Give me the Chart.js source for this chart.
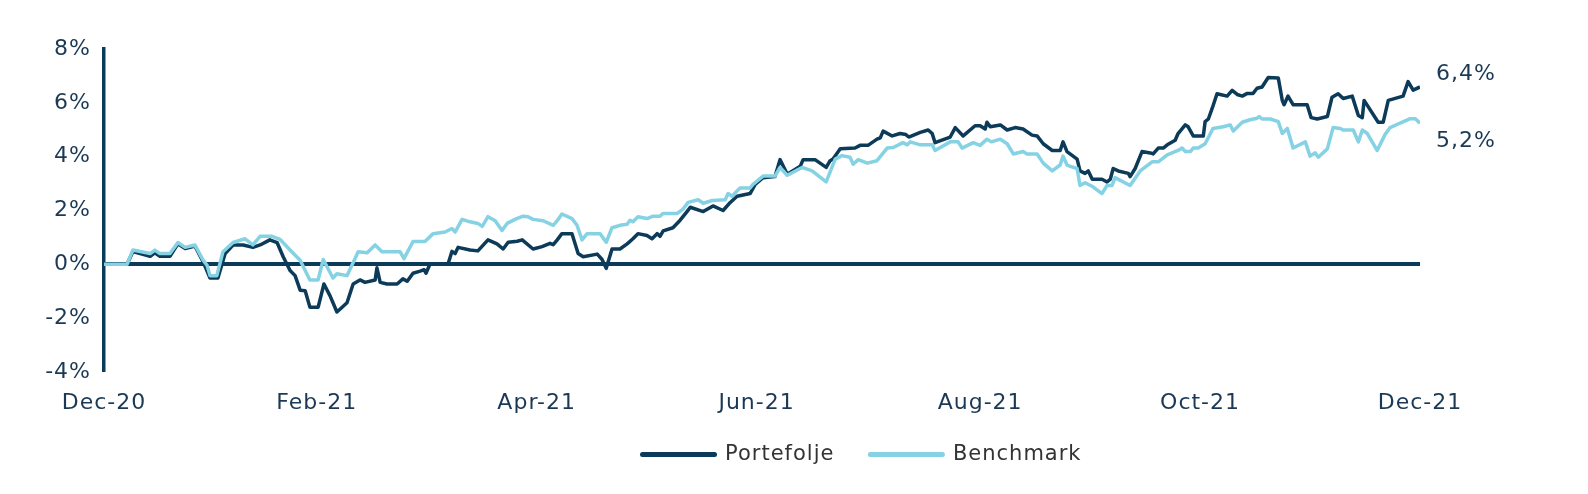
<!DOCTYPE html>
<html>
<head>
<meta charset="utf-8">
<script src="https://cdn.jsdelivr.net/npm/chart.js@4/dist/chart.umd.min.js"></script>
<style>
  body { margin: 0; background: #fff; }
  #wrap { width: 1588px; height: 494px; }
</style>
</head>
<body>
<div id="wrap"><canvas id="returnChart"></canvas></div>
<script>
// x = days since 31 Dec 2020, y = cumulative return in %
const portfolioDays = [0, 6.4, 8.0, 12.8, 14.1, 15.5, 18.3, 20.5, 22.5, 25.2, 27.5, 29.4, 31.6, 33.6, 35.8, 38.6, 41.3, 43.3, 46.0, 48.0,
    49.7, 51.6, 53.0, 54.4, 55.8, 57.1, 59.4, 61.0, 62.7, 64.6, 67.4, 69.1, 71.0, 72.4, 75.2, 75.7, 76.6, 78.5, 81.3, 82.9,
    84.1, 85.7, 87.7, 88.8, 89.3, 90.4, 95.4, 96.5, 97.4, 98.2, 101.5, 103.7, 106.5, 109.0, 110.7, 112.1, 114.6, 116.0, 119.0, 121.5,
    123.7, 124.6, 125.7, 127.0, 129.8, 131.5, 132.9, 136.8, 138.1, 139.3, 140.9, 143.1, 145.1, 146.7, 148.1, 150.6, 152.0, 153.4, 154.2, 155.1,
    157.8, 159.8, 161.7, 162.6, 166.2, 168.9, 171.7, 173.7, 175.6, 179.2, 180.6, 182.8, 186.1, 187.5, 189.5, 193.1, 193.9, 197.2, 200.3, 201.4,
    202.2, 204.2, 208.3, 209.7, 211.9, 214.4, 215.3, 216.1, 218.6, 220.8, 222.4, 223.2, 226.4, 228.6, 229.7, 230.5, 234.7, 236.1, 238.3, 241.6,
    243.0, 244.4, 244.9, 245.8, 248.6, 250.5, 252.7, 254.9, 257.4, 258.8, 260.5, 263.0, 265.2, 266.0, 267.1, 269.9, 270.7, 272.1, 273.0, 274.1,
    276.8, 278.2, 279.1, 279.9, 281.3, 284.1, 284.6, 286.0, 287.9, 290.2, 291.0, 292.4, 293.8, 294.9, 297.1, 297.9, 299.9, 300.7, 302.1, 304.9,
    305.4, 306.3, 307.4, 308.7, 311.5, 312.9, 314.3, 315.7, 317.1, 318.7, 319.8, 321.2, 322.9, 325.7, 326.8, 327.3, 328.4, 329.8, 333.7, 334.8,
    336.5, 339.3, 340.6, 342.3, 343.7, 346.2, 347.9, 349.0, 349.5, 353.4, 354.8, 356.2, 360.3, 361.7, 363.1, 365];
const portfolioValues = [0, 0, 0.47, 0.30, 0.43, 0.30, 0.30, 0.76, 0.59, 0.68, 0.09, -0.51, -0.51, 0.40, 0.72, 0.72, 0.63, 0.72, 0.91, 0.81,
    0.28, -0.23, -0.42, -0.96, -0.98, -1.59, -1.59, -0.73, -1.17, -1.77, -1.43, -0.73, -0.58, -0.67, -0.58, -0.13, -0.67, -0.73, -0.73, -0.54,
    -0.63, -0.33, -0.25, -0.20, -0.33, 0, 0, 0.48, 0.40, 0.63, 0.53, 0.50, 0.91, 0.76, 0.57, 0.82, 0.86, 0.91, 0.57, 0.66,
    0.78, 0.73, 0.91, 1.14, 1.14, 0.40, 0.28, 0.38, 0.19, -0.15, 0.57, 0.57, 0.76, 0.95, 1.14, 1.07, 0.95, 1.14, 1.04, 1.24,
    1.36, 1.64, 1.96, 2.12, 1.96, 2.17, 2.00, 2.30, 2.53, 2.63, 2.97, 3.22, 3.26, 3.89, 3.35, 3.64, 3.89, 3.89, 3.60, 3.85,
    3.91, 4.29, 4.32, 4.42, 4.42, 4.65, 4.70, 4.95, 4.77, 4.86, 4.82, 4.73, 4.90, 4.99, 4.86, 4.52, 4.73, 5.08, 4.77, 5.15,
    5.15, 5.03, 5.28, 5.11, 5.18, 4.99, 5.08, 5.03, 4.80, 4.77, 4.48, 4.23, 4.23, 4.55, 4.19, 3.91, 3.47, 3.38, 3.47, 3.16,
    3.16, 3.06, 3.16, 3.56, 3.47, 3.38, 3.26, 3.56, 4.19, 4.14, 4.10, 4.32, 4.32, 4.44, 4.61, 4.86, 5.18, 5.11, 4.77, 4.77,
    5.30, 5.40, 5.81, 6.34, 6.25, 6.46, 6.31, 6.25, 6.35, 6.35, 6.54, 6.59, 6.94, 6.92, 6.09, 5.93, 6.25, 5.93, 5.93, 5.45,
    5.40, 5.49, 6.21, 6.34, 6.16, 6.25, 5.53, 5.45, 6.09, 5.28, 5.28, 6.09, 6.25, 6.79, 6.47, 6.59];

const benchmarkDays = [0, 6.4, 8.0, 12.8, 14.1, 15.5, 18.3, 20.5, 22.5, 25.2, 27.5, 28.6, 29.4, 31.3, 33.0, 35.8, 39.1, 41.3, 43.3, 46.6,
    48.8, 51.6, 54.4, 57.1, 59.4, 60.8, 63.5, 64.6, 67.4, 70.5, 73.0, 75.2, 77.1, 82.1, 83.2, 85.7, 89.0, 91.3, 94.6, 96.5,
    97.4, 99.3, 101.5, 103.7, 104.9, 106.5, 108.5, 110.4, 111.8, 114.0, 116.2, 117.6, 119.0, 121.8, 124.6, 125.7, 127.0, 129.8, 131.2, 132.6,
    134.0, 137.6, 139.3, 140.9, 143.1, 145.1, 145.9, 146.7, 148.1, 150.6, 152.3, 154.2, 155.1, 159.0, 160.6, 162.0, 164.8, 166.2, 168.7, 172.3,
    173.1, 174.2, 176.4, 179.2, 180.0, 182.8, 186.1, 187.5, 189.5, 193.6, 196.4, 200.3, 202.8, 204.7, 206.9, 207.8, 209.2, 211.7, 214.4, 217.2,
    218.9, 221.6, 222.8, 223.6, 226.4, 229.7, 230.5, 234.7, 236.9, 238.0, 241.1, 243.0, 244.9, 246.1, 248.6, 250.5, 252.2, 254.9, 256.0, 258.8,
    260.5, 263.0, 265.2, 266.0, 267.1, 268.0, 269.9, 270.7, 272.1, 274.3, 276.8, 278.2, 279.6, 280.4, 284.6, 287.4, 290.7, 292.4, 294.9, 297.9,
    299.0, 299.9, 301.3, 302.1, 303.5, 305.4, 307.6, 310.4, 312.4, 313.2, 315.7, 317.9, 319.8, 320.4, 321.2, 323.5, 325.7, 326.8, 328.2, 329.8,
    333.2, 334.5, 335.9, 336.8, 339.3, 340.9, 342.9, 343.7, 346.5, 347.9, 349.0, 350.4, 353.1, 355.3, 356.7, 359.5, 362.3, 363.7, 365];
const benchmarkValues = [0, 0, 0.53, 0.40, 0.53, 0.40, 0.40, 0.81, 0.63, 0.72, 0.15, -0.04, -0.42, -0.42, 0.47, 0.81, 0.95, 0.72, 1.04, 1.04,
    0.93, 0.53, 0.15, -0.58, -0.58, 0.18, -0.51, -0.35, -0.42, 0.47, 0.43, 0.72, 0.47, 0.47, 0.21, 0.85, 0.85, 1.14, 1.20, 1.33,
    1.20, 1.67, 1.58, 1.52, 1.41, 1.77, 1.62, 1.26, 1.52, 1.67, 1.79, 1.77, 1.67, 1.62, 1.45, 1.62, 1.87, 1.70, 1.45, 0.91,
    1.14, 1.14, 0.82, 1.36, 1.45, 1.49, 1.64, 1.58, 1.77, 1.70, 1.79, 1.79, 1.89, 1.89, 2.05, 2.30, 2.40, 2.27, 2.37, 2.40,
    2.63, 2.53, 2.84, 2.84, 2.97, 3.28, 3.28, 3.60, 3.31, 3.60, 3.47, 3.06, 3.91, 4.04, 3.98, 3.72, 3.89, 3.76, 3.85, 4.32,
    4.34, 4.52, 4.44, 4.55, 4.44, 4.44, 4.23, 4.55, 4.55, 4.32, 4.52, 4.42, 4.65, 4.55, 4.65, 4.48, 4.10, 4.19, 4.10, 4.10,
    3.76, 3.47, 3.69, 4.02, 3.69, 3.64, 3.56, 2.93, 3.03, 2.88, 2.63, 2.93, 2.93, 3.22, 2.93, 3.47, 3.81, 3.81, 4.07, 4.23,
    4.32, 4.19, 4.19, 4.32, 4.32, 4.48, 5.05, 5.11, 5.18, 4.95, 5.28, 5.37, 5.43, 5.49, 5.40, 5.40, 5.30, 4.86, 5.05, 4.32,
    4.55, 4.02, 4.14, 3.98, 4.29, 5.08, 5.05, 4.99, 4.99, 4.55, 4.99, 4.86, 4.23, 4.82, 5.08, 5.25, 5.41, 5.41, 5.24];

const tickDays = [0, 59, 120, 181, 243, 304, 365];
const tickLabels = ["Dec-20", "Feb-21", "Apr-21", "Jun-21", "Aug-21", "Oct-21", "Dec-21"];
const seriesNames = ["Portefolje", "Benchmark"];
const endLabels = ["6,4%", "5,2%"];

const navy = "#0c3a59";
const lightBlue = "#84d2e3";
const textColor = "#1b3954";
const fontFamily = "'DejaVu Sans', sans-serif";

function toPoints(days, values) {
    return days.map(function(d, i) {
        return { x: d, y: values[i] };
    });
}

// the original type is wide, so open the letters up a bit
const spacingPlugin = {
    id: "spacing",
    beforeUpdate(chart) { chart.ctx.letterSpacing = "1px"; },
    beforeDraw(chart) { chart.ctx.letterSpacing = "1px"; }
};

// values printed right of the line ends
const endLabelPlugin = {
    id: "endLabels",
    afterDatasetsDraw(chart) {
        let ctx = chart.ctx;
        let yScale = chart.scales.y;
        let offsets = [-13, 18];
        ctx.save();
        ctx.font = "22px " + fontFamily;
        ctx.fillStyle = textColor;
        ctx.textBaseline = "middle";
        chart.data.datasets.forEach(function(ds, i) {
            let last = ds.data[ds.data.length - 1];
            ctx.fillText(endLabels[i], chart.chartArea.right + 16, yScale.getPixelForValue(last.y) + offsets[i]);
        });
        ctx.restore();
    }
};

// legend sits a bit right of centre and tucked up under the axis labels
const legendShiftPlugin = {
    id: "legendShift",
    afterLayout(chart) {
        let lg = chart.legend;
        let dx = 862 - (lg.left + lg.right) / 2;
        let dy = -14;
        lg.left += dx;
        lg.right += dx;
        lg.top += dy;
        lg.bottom += dy;
    }
};

new Chart(document.getElementById("returnChart"), {
    type: "line",
    data: {
        datasets: [
            {
                label: seriesNames[0],
                data: toPoints(portfolioDays, portfolioValues),
                borderColor: navy,
                backgroundColor: navy,
                borderWidth: 3.5,
                pointRadius: 0,
                tension: 0,
                borderJoinStyle: "round",
                order: 1
            },
            {
                label: seriesNames[1],
                data: toPoints(benchmarkDays, benchmarkValues),
                borderColor: lightBlue,
                backgroundColor: lightBlue,
                borderWidth: 3.5,
                pointRadius: 0,
                tension: 0,
                borderJoinStyle: "round",
                order: 0
            }
        ]
    },
    options: {
        responsive: true,
        maintainAspectRatio: false,
        animation: false,
        layout: { padding: { top: 49, right: 168, bottom: 5, left: 0 } },
        scales: {
            x: {
                type: "linear",
                min: 0,
                max: 365,
                afterBuildTicks: function(scale) {
                    scale.ticks = tickDays.map(function(v) { return { value: v }; });
                },
                afterFit: function(scale) { scale.height = 50; },
                ticks: {
                    autoSkip: false,
                    maxRotation: 0,
                    padding: 18,
                    color: textColor,
                    font: { family: fontFamily, size: 22 },
                    callback: function(v) { return tickLabels[tickDays.indexOf(v)]; }
                },
                grid: { display: false, drawTicks: false },
                border: { display: false }
            },
            y: {
                min: -4,
                max: 8,
                afterFit: function(scale) { scale.width = 104; },
                ticks: {
                    stepSize: 2,
                    padding: 13,
                    color: textColor,
                    font: { family: fontFamily, size: 22 },
                    callback: function(v) { return v + "%"; }
                },
                grid: {
                    drawTicks: false,
                    color: function(c) { return c.tick && c.tick.value === 0 ? navy : "rgba(0,0,0,0)"; },
                    lineWidth: function(c) { return c.tick && c.tick.value === 0 ? 4 : 0; }
                },
                border: { color: navy, width: 3.5 }
            }
        },
        plugins: {
            tooltip: { enabled: false },
            legend: {
                position: "bottom",
                labels: {
                    usePointStyle: true,
                    pointStyle: "line",
                    pointStyleWidth: 72,
                    padding: 36,
                    color: "#333333",
                    font: { family: fontFamily, size: 21 },
                    sort: function(a, b) { return a.datasetIndex - b.datasetIndex; },
                    generateLabels: function(chart) {
                        let items = Chart.defaults.plugins.legend.labels.generateLabels(chart);
                        items.forEach(function(item) {
                            item.lineWidth = 5;
                            item.lineCap = "round";
                        });
                        return items;
                    }
                }
            }
        }
    },
    plugins: [spacingPlugin, endLabelPlugin, legendShiftPlugin]
});
</script>
</body>
</html>
